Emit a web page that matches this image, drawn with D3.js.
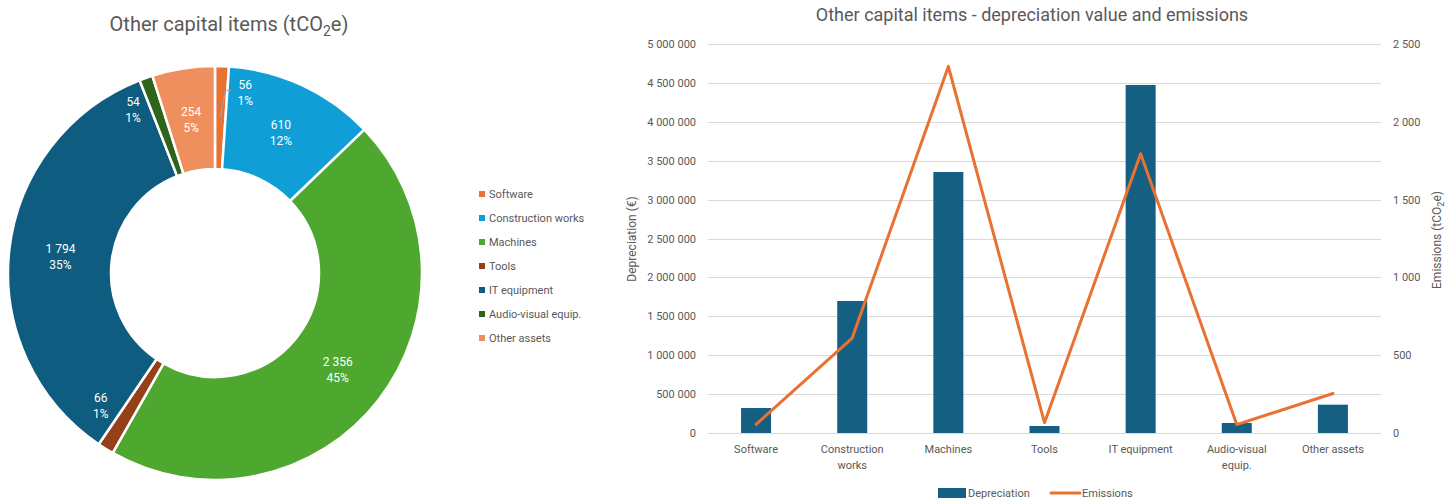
<!DOCTYPE html>
<html>
<head>
<meta charset="utf-8">
<script src="https://cdn.jsdelivr.net/npm/d3@7"></script>
<style>
  html, body { margin: 0; padding: 0; background: #fff; }
  svg { display: block; font-family: Roboto, "Liberation Sans", sans-serif; }
</style>
</head>
<body>
<svg id="chart" width="1454" height="502"></svg>
<script>
// Capital item categories (shared by both charts)
const categories = ["Software", "Construction works", "Machines", "Tools", "IT equipment", "Audio-visual equip.", "Other assets"];
// Emissions per category, tCO2e
const emissions = [56, 610, 2356, 66, 1794, 54, 254];
// Depreciation value per category, €
const depreciation = [321000, 1697000, 3355000, 90000, 4473000, 129000, 364000];
// Slice colours for the donut
const sliceColors = ["#E97132", "#0F9ED5", "#4EA72E", "#96401A", "#0E5C7F", "#2F641B", "#EF8F5E"];
// Axis ticks
const depTicks = [0, 500000, 1000000, 1500000, 2000000, 2500000, 3000000, 3500000, 4000000, 4500000, 5000000];
const emTicks = [0, 500, 1000, 1500, 2000, 2500];

const textGrey = "#595959";
const gridGrey = "#D9D9D9";
const barColor = "#156082";
const lineColor = "#E97132";

const svg = d3.select("#chart");
const locale = d3.formatLocale({ decimal: ",", thousands: " ", grouping: [3], currency: ["", "€"] });
const fmt = locale.format(",d");

/* ---------------- Donut: emissions share ---------------- */
const donut = svg.append("g").attr("transform", "translate(215,273)");

const donutTitle = svg.append("text")
  .attr("x", 229).attr("y", 31)
  .attr("text-anchor", "middle")
  .attr("fill", textGrey)
  .style("font-size", "20px");
donutTitle.append("tspan").text("Other capital items (tCO");
donutTitle.append("tspan").text("2").attr("dy", 5).style("font-size", "14px");
donutTitle.append("tspan").text("e)").attr("dy", -5);

const total = d3.sum(emissions);
const pie = d3.pie().sort(null).value(d => d.value);
const pieData = pie(categories.map((c, i) => ({ name: c, value: emissions[i], color: sliceColors[i] })));

const rOuter = 207, rInner = 104;
const arc = d3.arc().innerRadius(rInner).outerRadius(rOuter);
const labelArc = d3.arc().innerRadius((rInner + rOuter) / 2).outerRadius((rInner + rOuter) / 2);

donut.selectAll("path.slice")
  .data(pieData)
  .enter().append("path")
  .attr("class", "slice")
  .attr("d", arc)
  .attr("fill", d => d.data.color)
  .attr("stroke", "#fff")
  .attr("stroke-width", 2.5)
  .attr("stroke-linejoin", "round");

// Small slices get their labels moved clear of the ring's thin wedges
const labelNudge = {
  "Software": [25, -26],
  "Tools": [-32, 0],
  "Audio-visual equip.": [-30, -17]
};

pieData.forEach(d => {
  const [cx, cy] = labelArc.centroid(d);
  const n = labelNudge[d.data.name] || [0, 0];
  const lx = cx + n[0], ly = cy + n[1];
  if (d.data.name === "Software") {
    donut.append("polyline")
      .attr("points", [[lx - 14, ly - 1], [lx - 20, ly - 1], [cx, cy]].map(p => p.join(",")).join(" "))
      .attr("fill", "none")
      .attr("stroke", "#A6A6A6")
      .attr("stroke-width", 1);
  }
  const t = donut.append("text")
    .attr("text-anchor", "middle")
    .attr("fill", "#fff")
    .style("font-size", "12px");
  t.append("tspan").attr("x", lx).attr("y", ly - 3).text(fmt(d.data.value));
  t.append("tspan").attr("x", lx).attr("y", ly + 13).text(Math.round(d.data.value / total * 100) + "%");
});

// Donut legend
const legend = svg.append("g").attr("transform", "translate(479,194)");
categories.forEach((c, i) => {
  const row = legend.append("g").attr("transform", `translate(0,${i * 24})`);
  row.append("rect").attr("x", 0).attr("y", -3).attr("width", 6).attr("height", 6).attr("fill", sliceColors[i]);
  row.append("text").attr("x", 10).attr("y", 4).attr("fill", textGrey).style("font-size", "11px").text(c);
});

/* ---------------- Combo chart: depreciation bars + emissions line ---------------- */
const plot = { left: 708, right: 1381, top: 44, bottom: 433 };

svg.append("text")
  .attr("x", 1032).attr("y", 21)
  .attr("text-anchor", "middle")
  .attr("fill", textGrey)
  .style("font-size", "18px")
  .text("Other capital items - depreciation value and emissions");

const x = d3.scaleBand().domain(categories).range([plot.left, plot.right]).paddingInner(0.688).paddingOuter(0.344);
const yDep = d3.scaleLinear().domain([0, 5000000]).range([plot.bottom, plot.top]);
const yEm = d3.scaleLinear().domain([0, 2500]).range([plot.bottom, plot.top]);

// Gridlines
svg.append("g")
  .selectAll("line")
  .data(depTicks)
  .enter().append("line")
  .attr("x1", plot.left).attr("x2", plot.right)
  .attr("y1", d => Math.round(yDep(d)) + 0.5).attr("y2", d => Math.round(yDep(d)) + 0.5)
  .attr("stroke", gridGrey).attr("stroke-width", 1);

// Left axis
const leftAxis = svg.append("g")
  .attr("transform", `translate(${plot.left - 4},0)`)
  .call(d3.axisLeft(yDep).tickValues(depTicks).tickFormat(fmt).tickSize(0).tickPadding(8));
leftAxis.select(".domain").remove();
leftAxis.selectAll("text").attr("fill", textGrey).style("font-size", "11px").style("font-family", "Roboto, sans-serif");

// Right axis
const rightAxis = svg.append("g")
  .attr("transform", `translate(${plot.right + 4},0)`)
  .call(d3.axisRight(yEm).tickValues(emTicks).tickFormat(fmt).tickSize(0).tickPadding(8));
rightAxis.select(".domain").remove();
rightAxis.selectAll("text").attr("fill", textGrey).style("font-size", "11px").style("font-family", "Roboto, sans-serif");

// Axis titles
svg.append("text")
  .attr("transform", "translate(636,239) rotate(-90)")
  .attr("text-anchor", "middle")
  .attr("fill", textGrey)
  .style("font-size", "12px")
  .text("Depreciation (€)");

const emTitle = svg.append("text")
  .attr("transform", "translate(1441,240) rotate(-90)")
  .attr("text-anchor", "middle")
  .attr("fill", textGrey)
  .style("font-size", "12px");
emTitle.append("tspan").text("Emissions (tCO");
emTitle.append("tspan").text("2").attr("dy", 3).style("font-size", "9px");
emTitle.append("tspan").text("e)").attr("dy", -3);

// Bars
svg.append("g")
  .selectAll("rect")
  .data(categories)
  .enter().append("rect")
  .attr("x", d => x(d))
  .attr("width", x.bandwidth())
  .attr("y", (d, i) => yDep(depreciation[i]))
  .attr("height", (d, i) => plot.bottom - yDep(depreciation[i]))
  .attr("fill", barColor);

// Emissions line
const line = d3.line()
  .x((d, i) => x(categories[i]) + x.bandwidth() / 2)
  .y(d => yEm(d));
svg.append("path")
  .datum(emissions)
  .attr("d", line)
  .attr("fill", "none")
  .attr("stroke", lineColor)
  .attr("stroke-width", 3)
  .attr("stroke-linejoin", "round")
  .attr("stroke-linecap", "round");

// Category labels (wrapped to the band width)
const bottomAxis = svg.append("g")
  .attr("transform", `translate(0,${plot.bottom})`)
  .call(d3.axisBottom(x).tickSize(0).tickPadding(12));
bottomAxis.select(".domain").remove();
bottomAxis.selectAll("text")
  .attr("fill", textGrey)
  .style("font-size", "11px")
  .style("font-family", "Roboto, sans-serif")
  .each(function (d) {
    const el = d3.select(this);
    const words = d.split(" ");
    const maxW = 80;
    el.text(null);
    let lineWords = [];
    let tspan = el.append("tspan").attr("x", 0).attr("dy", "0.71em");
    words.forEach(w => {
      lineWords.push(w);
      tspan.text(lineWords.join(" "));
      if (tspan.node().getComputedTextLength() > maxW && lineWords.length > 1) {
        lineWords.pop();
        tspan.text(lineWords.join(" "));
        lineWords = [w];
        tspan = el.append("tspan").attr("x", 0).attr("dy", "1.45em").text(w);
      }
    });
  });

// Series legend
const sLegend = svg.append("g").attr("transform", "translate(938,493)");
sLegend.append("rect").attr("x", 0).attr("y", -5).attr("width", 28).attr("height", 10).attr("fill", barColor);
sLegend.append("text").attr("x", 30).attr("y", 4).attr("fill", textGrey).style("font-size", "11px").text("Depreciation");
sLegend.append("line").attr("x1", 113).attr("x2", 142).attr("y1", 0).attr("y2", 0)
  .attr("stroke", lineColor).attr("stroke-width", 3).attr("stroke-linecap", "round");
sLegend.append("text").attr("x", 144).attr("y", 4).attr("fill", textGrey).style("font-size", "11px").text("Emissions");
</script>
</body>
</html>
